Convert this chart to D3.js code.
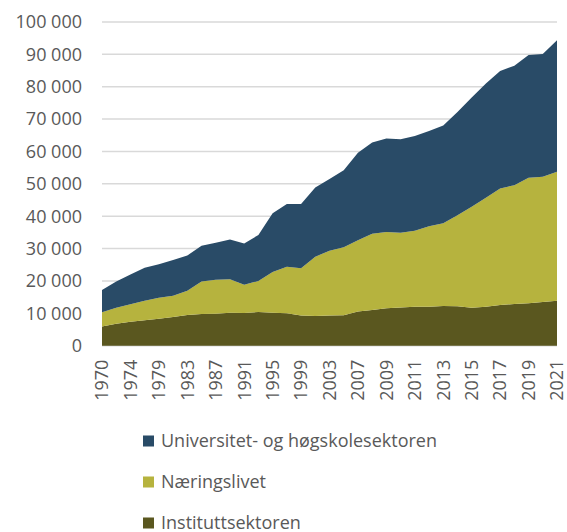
<!DOCTYPE html>
<html>
<head>
<meta charset="utf-8">
<style>
body { margin: 0; background: #fff; }
#chart { width: 567px; height: 532px; }
text { font-family: "Open Sans", "Noto Sans", sans-serif; fill: #595959; }
</style>
</head>
<body>
<div id="chart"></div>
<script src="https://d3js.org/d3.v7.min.js"></script>
<script>
// years in the survey (labels shown on every other one)
var years = [1970, 1972, 1974, 1977, 1979, 1981, 1983, 1985, 1987, 1989, 1991, 1993, 1995, 1997, 1999,
             2001, 2003, 2005, 2007, 2008, 2009, 2010, 2011, 2012, 2013, 2014, 2015, 2016, 2017, 2018,
             2019, 2020, 2021];

// R&D person-years by sector
var instituttsektoren = [5900, 6800, 7400, 7900, 8300, 8900, 9500, 9800, 9900, 10200, 10100, 10400, 10200,
                         10000, 9300, 9200, 9300, 9400, 10600, 11000, 11600, 11800, 12000, 12000, 12300,
                         12200, 11700, 12000, 12600, 12900, 13100, 13500, 13900];
var naeringslivet = [4400, 4900, 5400, 6000, 6500, 6500, 7500, 10000, 10500, 10300, 8700, 9600, 12600,
                     14400, 14600, 18300, 20000, 21000, 22000, 23600, 23500, 23100, 23500, 24900, 25500,
                     28100, 31200, 33700, 36000, 36700, 38800, 38700, 39800];
var universitet = [6900, 8100, 9200, 10200, 10400, 11100, 10900, 11100, 11400, 12300, 12800, 14200, 18100,
                   19400, 19900, 21400, 22200, 23800, 27000, 28200, 28900, 28900, 29300, 29400, 30200,
                   31900, 33800, 35300, 36300, 36900, 37900, 37900, 40700];

var seriesNames = ["Instituttsektoren", "Næringslivet", "Universitet- og høgskolesektoren"];
var seriesColors = ["#5a571f", "#b6b33e", "#294b67"];
var yTicks = [0, 10000, 20000, 30000, 40000, 50000, 60000, 70000, 80000, 90000, 100000];

var W = 567, H = 532;
var margin = { left: 102, right: 10, top: 22, bottom: 186 };
var plotW = 557 - margin.left;
var plotH = 345.7 - margin.top;

var svg = d3.select("#chart").append("svg")
  .attr("width", W).attr("height", H);

var g = svg.append("g")
  .attr("transform", "translate(" + margin.left + "," + margin.top + ")");

var x = d3.scalePoint().domain(years).range([0, plotW]);
var y = d3.scaleLinear().domain([0, 100000]).range([plotH, 0]);

var fmt = function(v) { return d3.format(",")(v).replace(/,/g, " "); };

// gridlines
g.selectAll(".grid").data(yTicks).enter().append("line")
  .attr("x1", 0).attr("x2", plotW)
  .attr("y1", function(d) { return y(d); })
  .attr("y2", function(d) { return y(d); })
  .attr("stroke", "#d9d9d9")
  .attr("stroke-width", 1.5);

// stacked areas
var rows = years.map(function(yr, i) {
  return { year: yr, s0: instituttsektoren[i], s1: naeringslivet[i], s2: universitet[i] };
});
var stack = d3.stack().keys(["s0", "s1", "s2"]);
var layers = stack(rows);

var area = d3.area()
  .x(function(d) { return x(d.data.year); })
  .y0(function(d) { return y(d[0]); })
  .y1(function(d) { return y(d[1]); });

g.selectAll(".layer").data(layers).enter().append("path")
  .attr("d", area)
  .attr("fill", function(d, i) { return seriesColors[i]; });

// y axis labels
g.selectAll(".ylab").data(yTicks).enter().append("text")
  .attr("x", -20)
  .attr("y", function(d) { return y(d); })
  .attr("dy", "0.35em")
  .attr("text-anchor", "end")
  .style("font-size", "18px")
  .text(fmt);

// x axis labels, every other year
g.selectAll(".xlab").data(years.filter(function(d, i) { return i % 2 === 0; }))
  .enter().append("text")
  .attr("transform", function(d) {
    return "translate(" + x(d) + "," + (plotH + 14) + ") rotate(-90)";
  })
  .attr("dy", "0.35em")
  .attr("text-anchor", "end")
  .style("font-size", "18px")
  .text(function(d) { return d; });

// legend, top series first
var legendOrder = [2, 1, 0];
var legend = svg.selectAll(".legend").data(legendOrder).enter().append("g")
  .attr("transform", function(d, i) { return "translate(143," + (441 + i * 41) + ")"; });

legend.append("rect")
  .attr("x", 0).attr("y", -5.5)
  .attr("width", 11).attr("height", 11)
  .attr("fill", function(d) { return seriesColors[d]; });

legend.append("text")
  .attr("x", 18).attr("y", 0)
  .attr("dy", "0.35em")
  .style("font-size", "18px")
  .text(function(d) { return seriesNames[d]; });
</script>
</body>
</html>
